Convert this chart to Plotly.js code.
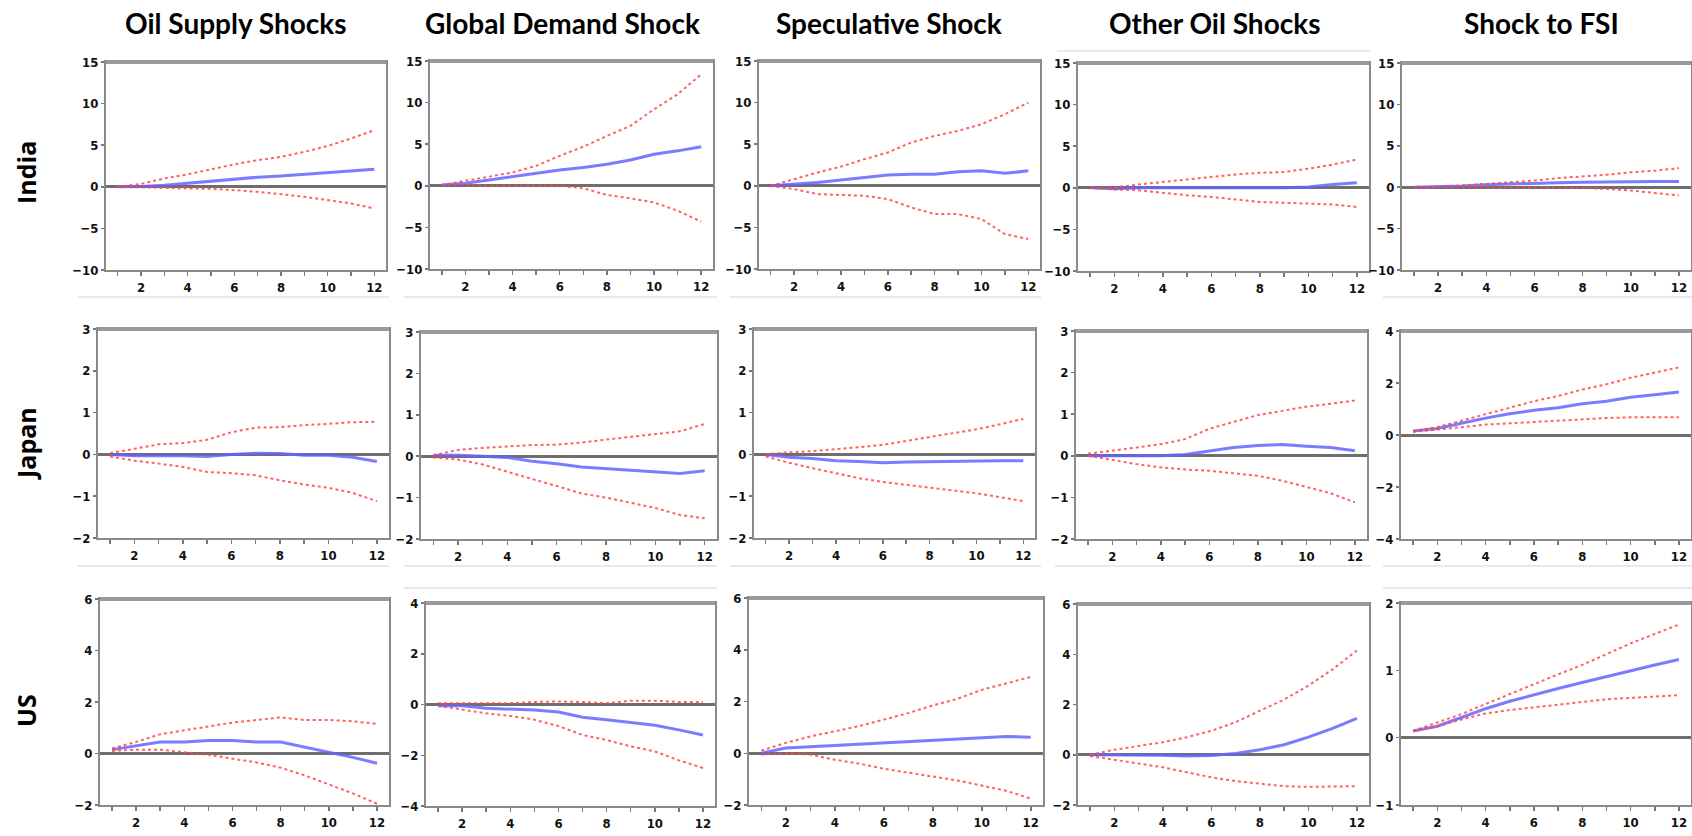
<!DOCTYPE html>
<html><head><meta charset="utf-8">
<script src="https://cdn.plot.ly/plotly-3.0.1.min.js"></script>
<style>html,body{margin:0;padding:0;background:#fff}#chart{width:1692px;height:836px}</style>
</head><body><div id="chart"></div>
<script>
// ---------------- DATA ----------------
const horizon = [1,2,3,4,5,6,7,8,9,10,11,12];
const shockNames = ["Oil Supply Shocks","Global Demand Shock","Speculative Shock","Other Oil Shocks","Shock to FSI"];
const countryNames = ["India","Japan","US"];

// India
const IND_supply_irf = [0,0.05,0.2,0.45,0.7,0.95,1.15,1.3,1.5,1.7,1.9,2.1];
const IND_supply_up  = [0,0.35,1.0,1.5,2.1,2.7,3.2,3.6,4.2,4.9,5.8,6.8];
const IND_supply_lo  = [0,-0.05,-0.1,-0.15,-0.25,-0.4,-0.6,-0.9,-1.2,-1.6,-2.0,-2.6];
const IND_demand_irf = [0.1,0.3,0.7,1.1,1.5,1.9,2.2,2.6,3.1,3.8,4.2,4.7];
const IND_demand_up  = [0.1,0.6,1.1,1.6,2.4,3.6,4.7,6.0,7.2,9.2,11.0,13.4];
const IND_demand_lo  = [0.1,0.1,0.1,0.1,0.05,0,-0.3,-1.1,-1.5,-2.0,-3.0,-4.3];
const IND_spec_irf   = [0,0.2,0.4,0.7,1.0,1.3,1.4,1.4,1.7,1.8,1.5,1.8];
const IND_spec_up    = [0,0.8,1.6,2.3,3.2,4.0,5.2,6.0,6.6,7.4,8.6,10.0];
const IND_spec_lo    = [0,-0.4,-1.0,-1.1,-1.2,-1.6,-2.6,-3.4,-3.4,-4.0,-5.8,-6.4];
const IND_other_irf  = [0,-0.1,0,0,0,0,0,0,0,0.1,0.4,0.6];
const IND_other_up   = [0,0.05,0.4,0.7,1.0,1.3,1.6,1.8,1.9,2.3,2.8,3.4];
const IND_other_lo   = [0,-0.2,-0.3,-0.6,-0.9,-1.1,-1.4,-1.7,-1.8,-1.9,-2.0,-2.3];
const IND_fsi_irf    = [0,0.05,0.15,0.3,0.4,0.5,0.55,0.6,0.6,0.65,0.7,0.7];
const IND_fsi_up     = [0,0.05,0.2,0.4,0.6,0.8,1.1,1.3,1.5,1.8,2.0,2.3];
const IND_fsi_lo     = [0,0,0,0,-0.05,-0.05,-0.05,-0.1,-0.2,-0.4,-0.7,-1.0];

// Japan
const JPN_supply_irf = [0,-0.03,-0.03,-0.03,-0.05,0,0.03,0.02,-0.02,-0.02,-0.07,-0.17];
const JPN_supply_up  = [0.03,0.14,0.24,0.27,0.35,0.53,0.64,0.65,0.7,0.73,0.77,0.78];
const JPN_supply_lo  = [-0.05,-0.15,-0.22,-0.3,-0.42,-0.45,-0.5,-0.62,-0.72,-0.8,-0.92,-1.12];
const JPN_demand_irf = [0.02,0.02,0,-0.03,-0.12,-0.18,-0.26,-0.3,-0.33,-0.37,-0.42,-0.35];
const JPN_demand_up  = [0.02,0.15,0.2,0.23,0.27,0.28,0.33,0.4,0.47,0.53,0.6,0.78];
const JPN_demand_lo  = [-0.03,-0.08,-0.2,-0.38,-0.55,-0.72,-0.9,-1.0,-1.12,-1.25,-1.42,-1.5];
const JPN_spec_irf   = [0,-0.07,-0.1,-0.15,-0.17,-0.2,-0.18,-0.17,-0.17,-0.15,-0.15,-0.15];
const JPN_spec_up    = [0,0.05,0.08,0.12,0.17,0.23,0.32,0.42,0.5,0.6,0.72,0.85];
const JPN_spec_lo    = [-0.05,-0.2,-0.33,-0.45,-0.57,-0.66,-0.73,-0.8,-0.87,-0.93,-1.02,-1.12];
const JPN_other_irf  = [0,0,0,0,0.03,0.12,0.2,0.25,0.27,0.23,0.2,0.12];
const JPN_other_up   = [0.05,0.12,0.2,0.28,0.4,0.65,0.82,0.98,1.08,1.18,1.25,1.33];
const JPN_other_lo   = [0,-0.1,-0.2,-0.28,-0.33,-0.36,-0.42,-0.48,-0.6,-0.75,-0.9,-1.12];
const JPN_fsi_irf    = [0.15,0.25,0.45,0.65,0.82,0.95,1.05,1.2,1.3,1.45,1.55,1.65];
const JPN_fsi_up     = [0.15,0.3,0.55,0.8,1.05,1.3,1.5,1.75,1.95,2.2,2.4,2.6];
const JPN_fsi_lo     = [0.12,0.2,0.3,0.4,0.45,0.5,0.55,0.62,0.65,0.68,0.68,0.68];

// US
const US_supply_irf  = [0.15,0.3,0.45,0.45,0.5,0.5,0.45,0.45,0.25,0.05,-0.15,-0.38];
const US_supply_up   = [0.2,0.45,0.75,0.9,1.05,1.2,1.3,1.4,1.3,1.3,1.25,1.15];
const US_supply_lo   = [0.1,0.15,0.15,0.05,-0.05,-0.2,-0.35,-0.55,-0.85,-1.2,-1.55,-1.95];
const US_demand_irf  = [-0.05,-0.05,-0.15,-0.18,-0.22,-0.3,-0.5,-0.6,-0.72,-0.82,-1.0,-1.2];
const US_demand_up   = [0.05,0.05,0.05,0.05,0.1,0.12,0.1,0.05,0.15,0.15,0.1,0.1];
const US_demand_lo   = [-0.05,-0.2,-0.35,-0.45,-0.6,-0.85,-1.2,-1.4,-1.65,-1.85,-2.2,-2.5];
const US_spec_irf    = [0,0.2,0.25,0.3,0.35,0.4,0.45,0.5,0.55,0.62,0.65,0.62];
const US_spec_up     = [0.1,0.4,0.65,0.85,1.05,1.3,1.55,1.85,2.1,2.45,2.7,2.95];
const US_spec_lo     = [-0.05,0,-0.05,-0.25,-0.4,-0.6,-0.75,-0.9,-1.05,-1.25,-1.45,-1.75];
const US_other_irf   = [0,0,0,-0.02,-0.05,-0.03,0.05,0.2,0.4,0.7,1.05,1.45];
const US_other_up    = [0,0.2,0.35,0.5,0.7,0.95,1.3,1.75,2.2,2.75,3.4,4.15];
const US_other_lo    = [-0.05,-0.2,-0.35,-0.5,-0.7,-0.9,-1.05,-1.15,-1.25,-1.28,-1.25,-1.25];
const US_fsi_irf     = [0.1,0.17,0.3,0.43,0.54,0.64,0.73,0.82,0.91,0.99,1.08,1.16];
const US_fsi_up      = [0.1,0.22,0.35,0.5,0.65,0.8,0.94,1.08,1.24,1.4,1.54,1.68];
const US_fsi_lo      = [0.1,0.17,0.27,0.36,0.41,0.45,0.5,0.54,0.57,0.59,0.61,0.63];

// y-axis ranges and tick steps per panel (row-major)
const yRanges = [
  [-10,15],[-10,15],[-10,15],[-10,15],[-10,15],
  [-2,3],[-2,3],[-2,3],[-2,3],[-4,4],
  [-2,6],[-4,4],[-2,6],[-2,6],[-1,2]
];
const yDticks = [5,5,5,5,5, 1,1,1,1,2, 2,2,2,2,1];

// ---------------- LAYOUT ----------------
const W = 1692, H = 836;
// panel plot-area boxes in pixels: [left, right, top, bottom]
const boxes = [
  [106,386,62,270],[430,713,61,269],[759,1040,61,269],[1078,1369,63,271],[1402,1691,63,270],
  [98,389,329,538],[421,717,332,539],[754,1035,329,538],[1076,1367,331,539],[1401,1691,331,539],
  [100,389,599,805],[426,715,603,806],[749,1043,598,805],[1078,1369,604,805],[1401,1691,603,805]
];

const panelSeries = [
  [IND_supply_irf,IND_supply_up,IND_supply_lo],[IND_demand_irf,IND_demand_up,IND_demand_lo],
  [IND_spec_irf,IND_spec_up,IND_spec_lo],[IND_other_irf,IND_other_up,IND_other_lo],
  [IND_fsi_irf,IND_fsi_up,IND_fsi_lo],
  [JPN_supply_irf,JPN_supply_up,JPN_supply_lo],[JPN_demand_irf,JPN_demand_up,JPN_demand_lo],
  [JPN_spec_irf,JPN_spec_up,JPN_spec_lo],[JPN_other_irf,JPN_other_up,JPN_other_lo],
  [JPN_fsi_irf,JPN_fsi_up,JPN_fsi_lo],
  [US_supply_irf,US_supply_up,US_supply_lo],[US_demand_irf,US_demand_up,US_demand_lo],
  [US_spec_irf,US_spec_up,US_spec_lo],[US_other_irf,US_other_up,US_other_lo],
  [US_fsi_irf,US_fsi_up,US_fsi_lo]
];

const tickFont = {family:"'DejaVu Sans Condensed','Liberation Sans Narrow','Arial Narrow',sans-serif", size:13, color:'#111', weight:700};
const traces = [];
const layout = {
  width: W, height: H,
  margin: {l:0,r:0,t:0,b:0},
  paper_bgcolor:'#fff', plot_bgcolor:'#fff',
  showlegend:false,
  shapes: [], annotations: []
};

panelSeries.forEach((s, i) => {
  const sx = i ? String(i+1) : '';
  const xa = 'x'+sx, ya = 'y'+sx;
  const b = boxes[i];
  layout['xaxis'+sx] = {
    domain:[b[0]/W, b[1]/W], anchor: ya,
    range:[0.5,12.5], tickmode:'linear', tick0:2, dtick:2,
    ticks:'outside', ticklen:4, tickwidth:1.5, tickcolor:'#777',
    minor:{tickmode:'linear', tick0:1, dtick:1, ticks:'outside', ticklen:4, tickwidth:1.5, tickcolor:'#777', showgrid:false},
    showgrid:false, zeroline:false,
    showline:true, linecolor:'#8a8a8a', linewidth:2, mirror:true,
    tickfont: tickFont, fixedrange:true
  };
  layout['yaxis'+sx] = {
    domain:[1-b[3]/H, 1-b[2]/H], anchor: xa,
    range: yRanges[i], tickmode:'linear', tick0: yRanges[i][0], dtick: yDticks[i],
    ticks:'outside', ticklen:3, tickwidth:1.5, tickcolor:'#777',
    showgrid:false, zeroline:true, zerolinecolor:'#6e6e6e', zerolinewidth:3,
    showline:true, linecolor:'#8a8a8a', linewidth:2, mirror:true,
    tickfont: tickFont, fixedrange:true
  };
  // thicker grey top border
  layout.shapes.push({type:'line', xref:xa+' domain', yref:ya+' domain', x0:0, x1:1, y0:1, y1:1,
    line:{color:'#9a9a9a', width:4}});
  traces.push({x:horizon, y:s[0], xaxis:xa, yaxis:ya, type:'scatter', mode:'lines',
    line:{color:'rgba(100,100,255,0.85)', width:3}, hoverinfo:'skip'});
  traces.push({x:horizon, y:s[1], xaxis:xa, yaxis:ya, type:'scatter', mode:'lines',
    line:{color:'rgba(255,70,70,0.85)', width:2, dash:'dot'}, hoverinfo:'skip'});
  traces.push({x:horizon, y:s[2], xaxis:xa, yaxis:ya, type:'scatter', mode:'lines',
    line:{color:'rgba(255,70,70,0.85)', width:2, dash:'dot'}, hoverinfo:'skip'});
});

// faint separator lines (screenshot edges)
const sepLines = [
  [78,389,297],[404,717,297],[730,1041,297],[1383,1692,297],
  [78,389,566],[404,717,566],[730,1041,566],[1055,1370,566],[1383,1692,566],
  [404,717,588],[1383,1692,588],[1057,1370,51]
];
sepLines.forEach(l => layout.shapes.push({type:'line', xref:'paper', yref:'paper',
  x0:l[0]/W, x1:l[1]/W, y0:1-l[2]/H, y1:1-l[2]/H, line:{color:'#e2e2e2', width:1.5}}));

// column titles
const titleX = [236,562,889,1215,1541];
shockNames.forEach((t,j) => layout.annotations.push({text:t, xref:'paper', yref:'paper',
  x:titleX[j]/W, y:1-23/H, xanchor:'center', yanchor:'middle', showarrow:false,
  font:{family:'Lato, sans-serif', size:28, color:'#000', weight:700}}));
// row labels
const rowY = [173,444,711];
countryNames.forEach((t,r) => layout.annotations.push({text:t, xref:'paper', yref:'paper',
  x:26/W, y:1-rowY[r]/H, xanchor:'center', yanchor:'middle', textangle:-90, showarrow:false,
  font:{family:"'Open Sans', sans-serif", size:25, color:'#000', weight:700}}));

Plotly.newPlot('chart', traces, layout, {staticPlot:true, displayModeBar:false});
</script>
</body></html>
